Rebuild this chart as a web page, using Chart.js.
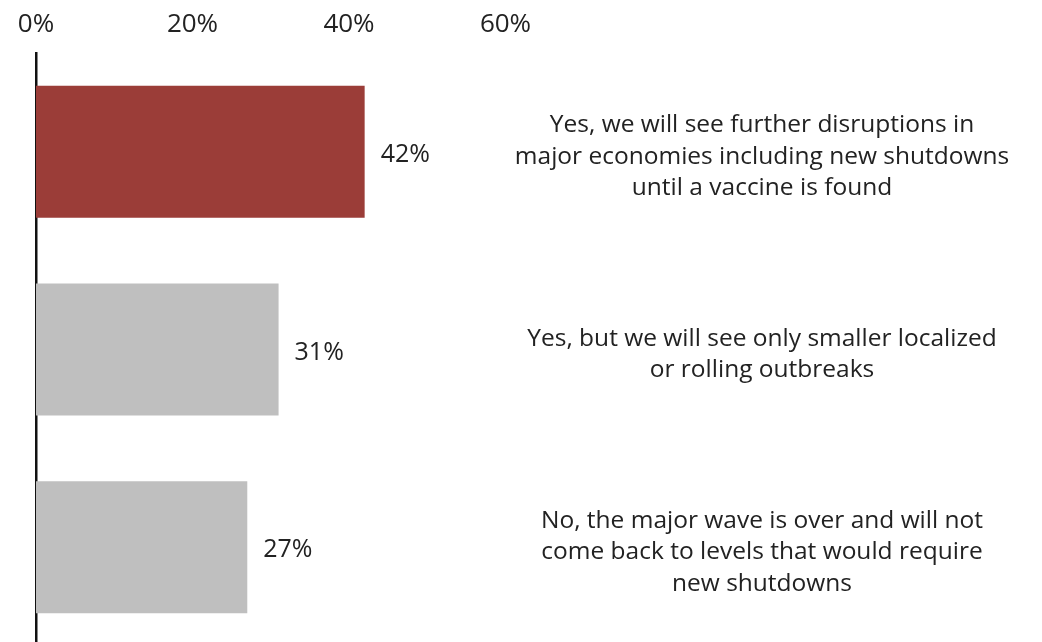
<!DOCTYPE html>
<html>
<head>
<meta charset="utf-8">
<script src="https://cdn.jsdelivr.net/npm/chart.js@4/dist/chart.umd.min.js"></script>
<style>
  html, body { margin: 0; padding: 0; background: #ffffff; overflow: hidden; }
  #wrap { width: 1042px; height: 646px; position: relative; }
</style>
</head>
<body>
<div id="wrap"><canvas id="c"></canvas></div>
<script>
const categories = [
  ["Yes, we will see further disruptions in", "major economies including new shutdowns", "until a vaccine is found"],
  ["Yes, but we will see only smaller localized", "or rolling outbreaks"],
  ["No, the major wave is over and will not", "come back to levels that would require", "new shutdowns"]
];
const shares = [42, 31, 27];
const barColors = ["#9B3D38", "#BFBFBF", "#BFBFBF"];
const xTicks = [0, 20, 40, 60];

const FONT = "'Open Sans', 'Noto Sans', sans-serif";
const TEXT = "#222222";
const WEIGHT = 400;

const valueLabels = {
  id: "valueLabels",
  afterDatasetsDraw(chart) {
    const ctx = chart.ctx;
    const meta = chart.getDatasetMeta(0);
    ctx.save();
    ctx.font = WEIGHT + " 25px " + FONT;
    ctx.fillStyle = TEXT;
    ctx.textAlign = "left";
    ctx.textBaseline = "middle";
    meta.data.forEach((bar, i) => {
      ctx.fillText(chart.data.datasets[0].data[i] + "%", bar.x + 16, bar.y + 3);
    });
    ctx.restore();
  }
};

const categoryLabels = {
  id: "categoryLabels",
  afterDraw(chart) {
    const ctx = chart.ctx;
    const yScale = chart.scales.y;
    const cx = 762, lh = 31.6;
    ctx.save();
    ctx.font = WEIGHT + " 24.5px " + FONT;
    ctx.fillStyle = TEXT;
    ctx.textAlign = "center";
    ctx.textBaseline = "middle";
    chart.data.labels.forEach((lines, i) => {
      const cy = yScale.getPixelForTick(i) + 5;
      const y0 = cy - (lines.length - 1) * lh / 2;
      lines.forEach((t, j) => ctx.fillText(t, cx, y0 + j * lh));
    });
    ctx.restore();
  }
};

new Chart(document.getElementById("c"), {
  type: "bar",
  data: {
    labels: categories,
    datasets: [{
      data: shares,
      backgroundColor: barColors,
      borderWidth: 0,
      barPercentage: 0.668,
      categoryPercentage: 1
    }]
  },
  options: {
    indexAxis: "y",
    responsive: true,
    maintainAspectRatio: false,
    animation: false,
    layout: { padding: { left: 0, right: 536.5, top: 0, bottom: 0 } },
    plugins: { legend: { display: false }, tooltip: { enabled: false } },
    scales: {
      x: {
        position: "top",
        min: 0,
        max: 60,
        afterBuildTicks(scale) { scale.ticks = xTicks.map(v => ({ value: v })); },
        afterFit(scale) { scale.height = 53; scale.paddingLeft = 0; scale.paddingRight = 0; },
        grid: { display: false, drawTicks: false },
        border: { display: false },
        ticks: {
          padding: 13,
          color: TEXT,
          font: { family: FONT, size: 26, weight: WEIGHT },
          callback: v => v + "%"
        }
      },
      y: {
        position: "left",
        afterFit(scale) { scale.width = 36; scale.paddingTop = 0; scale.paddingBottom = 0; },
        grid: { display: false, drawTicks: false },
        border: { display: true, color: "#111111", width: 2.5 },
        ticks: { display: false }
      }
    }
  },
  plugins: [valueLabels, categoryLabels]
});
</script>
</body>
</html>
